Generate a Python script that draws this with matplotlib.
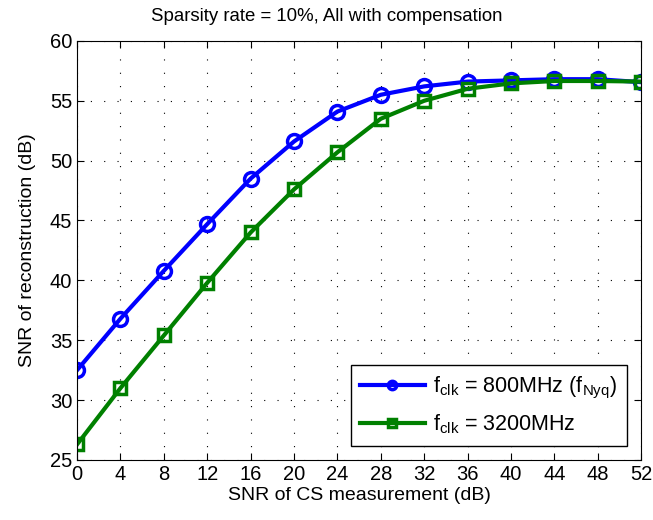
import matplotlib
matplotlib.use('Agg')
import matplotlib.pyplot as plt

plt.rcParams['font.family'] = ['Liberation Sans', 'DejaVu Sans']
plt.rcParams['mathtext.fontset'] = 'custom'
plt.rcParams['mathtext.rm'] = 'Liberation Sans'
plt.rcParams['mathtext.it'] = 'Liberation Sans:italic'

snr_cs = [0, 4, 8, 12, 16, 20, 24, 28, 32, 36, 40, 44, 48, 52]
snr_800 = [32.5, 36.8, 40.8, 44.7, 48.5, 51.6, 54.1, 55.5, 56.2, 56.6, 56.7, 56.8, 56.8, 56.55]
snr_3200 = [26.3, 31.0, 35.4, 39.8, 44.0, 47.6, 50.7, 53.5, 55.0, 56.0, 56.45, 56.65, 56.65, 56.6]

fig = plt.figure(figsize=(6.53, 5.2), dpi=100)
ax = fig.add_axes([0.118, 0.1154, 0.864, 0.806])

ax.plot(snr_cs, snr_800, '-o', color='#0000ff', lw=3, ms=10, mew=2.5,
        mfc='none', label=r'f$_{\rm clk}$ = 800MHz (f$_{\rm Nyq}$)')
ax.plot(snr_cs, snr_3200, '-s', color='#008000', lw=3, ms=9, mew=2.5,
        mfc='none', label=r'f$_{\rm clk}$ = 3200MHz')

ax.set_xlim(0, 52)
ax.set_ylim(25, 60)
ax.set_xticks(snr_cs)
ax.set_yticks(range(25, 61, 5))
ax.tick_params(direction='in', top=True, right=True, labelsize=14.5, length=5)
ax.grid(True, color='black', linestyle=(0, (1, 11)), linewidth=0.8)

ax.set_xlabel('SNR of CS measurement (dB)', fontsize=14, labelpad=2)
ax.set_ylabel('SNR of reconstruction (dB)', fontsize=14, labelpad=10)
fig.text(0.5, 0.968, 'Sparsity rate = 10%, All with compensation',
         fontsize=13.4, ha='center', va='center')

leg = ax.legend(loc='lower right', fontsize=15.5, fancybox=False, framealpha=1,
                edgecolor='black', handlelength=3.0, borderpad=0.45,
                labelspacing=0.55, handletextpad=0.4, markerscale=0.6,
                borderaxespad=0.65)
leg.get_frame().set_linewidth(1)

fig.savefig('out.png', dpi=100)
